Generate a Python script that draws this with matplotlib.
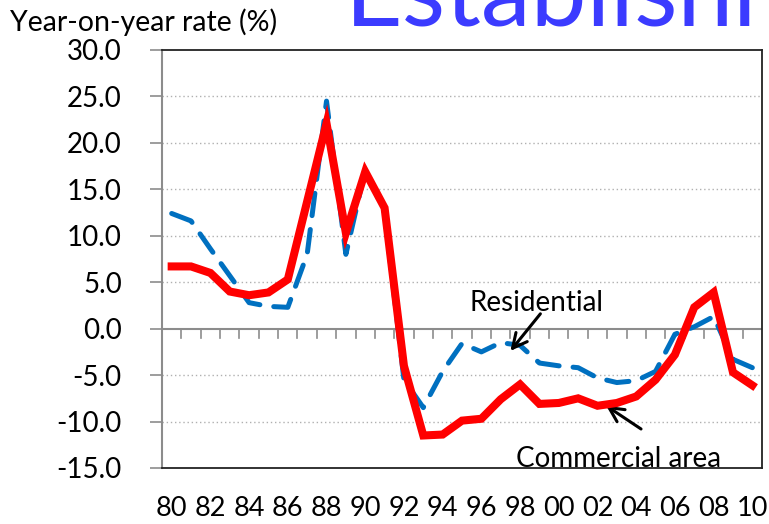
import numpy as np
import matplotlib
matplotlib.use("Agg")
import matplotlib.pyplot as plt

plt.rcParams['font.family'] = ['Lato', 'DejaVu Sans']

years = list(range(1980, 2011))
commercial = [6.7, 6.7, 6.0, 4.0, 3.6, 3.9, 5.3, 13.7, 22.1, 10.3, 16.9, 13.0,
              -4.0, -11.5, -11.4, -9.9, -9.7, -7.6, -6.0, -8.1, -8.0, -7.5,
              -8.3, -8.0, -7.3, -5.5, -2.8, 2.3, 3.9, -4.7, -6.1]
residential = [12.4, 11.6, 8.6, 5.7, 2.8, 2.4, 2.3, 8.0, 24.5, 8.0, 17.1, 12.5,
               -5.5, -8.5, -4.6, -1.6, -2.5, -1.5, -1.8, -3.7, -4.0, -4.2,
               -5.3, -5.8, -5.6, -4.6, -0.6, 0.2, 1.3, -3.3, -4.2]
ytick_vals = [-15, -10, -5, 0, 5, 10, 15, 20, 25, 30]

fig = plt.figure(figsize=(7.69, 5.24), dpi=100)
ax = fig.add_axes([162/769, 1-468/524, 600/769, 418/524])

x = np.arange(len(years))
ax.plot(x, residential, color='#0070C0', lw=3.6, dashes=(4.5, 2.8), dash_capstyle='round', zorder=3)
ax.plot(x, commercial, color='#FF0000', lw=5.8, solid_joinstyle='miter', zorder=4)

ax.set_xlim(-0.5, len(years) - 0.5)
ax.set_ylim(-15, 30)
ax.set_yticks(ytick_vals)
ax.set_yticklabels(['%.1f' % v for v in ytick_vals], fontsize=20)
for v in ytick_vals:
    if v not in (0, -15, 30):
        ax.axhline(v, color='#b0b0b0', lw=1, ls=(0, (1, 2)), zorder=1)

# category axis crossing at zero, ticks between categories
ax.axhline(0, color='#8c8c8c', lw=1.5, zorder=2)
for b in np.arange(0.5, len(years) - 1, 1.0):
    ax.plot([b, b], [0, -1.05], color='#8c8c8c', lw=1.2, zorder=2)

ax.set_xticks([])
for i, yr in enumerate(years):
    if yr % 2 == 0:
        ax.text(i, -19.4, '%02d' % (yr % 100), ha='center', va='center', fontsize=19.5, clip_on=False)

for s in ['top', 'right', 'bottom']:
    ax.spines[s].set_color('#222222')
    ax.spines[s].set_linewidth(1.3)
ax.spines['left'].set_color('#8c8c8c')
ax.spines['left'].set_linewidth(1.5)
ax.tick_params(axis='y', length=9, color='#8c8c8c', width=1.2, pad=20)

arrow = dict(arrowstyle='->', color='black', lw=2.2, mutation_scale=26, shrinkA=0, shrinkB=0)
ax.text(18.85, 2.8, 'Residential', ha='center', va='center', fontsize=20)
ax.annotate('', xy=(17.5, -2.4), xytext=(19.05, 1.6), arrowprops=arrow)
ax.text(23.1, -14.0, 'Commercial area', ha='center', va='center', fontsize=20)
ax.annotate('', xy=(22.45, -8.3), xytext=(24.25, -10.8), arrowprops=arrow)

fig.text(10/769, 1-22/524, 'Year-on-year rate (%)', fontsize=20.5, va='center', ha='left')
fig.text(345/769, 1-25/524, 'Establishment', fontsize=72, color='#3B3BFF', va='baseline', ha='left')

fig.savefig('out.png', dpi=100)
